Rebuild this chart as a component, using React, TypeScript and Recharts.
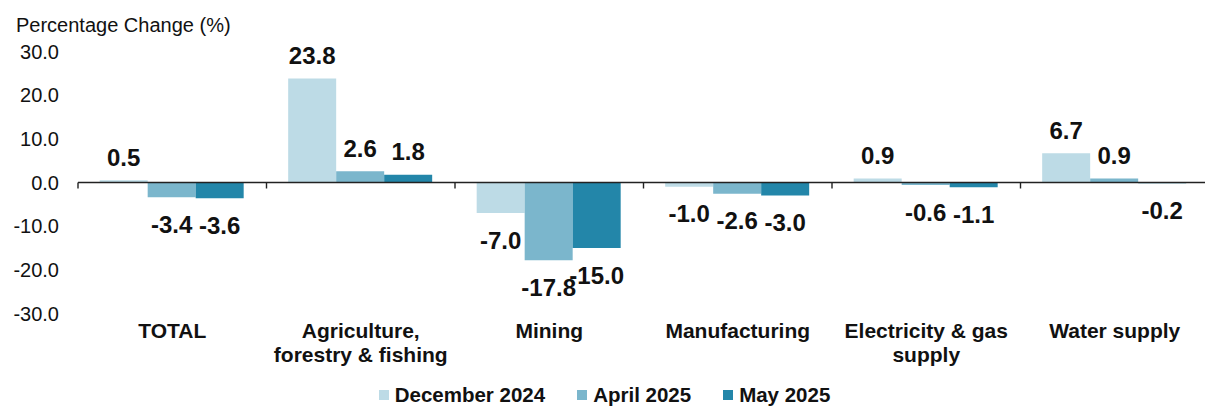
import React from 'react';
import { BarChart, Bar, XAxis, YAxis, ReferenceLine, Legend, LabelList } from 'recharts';

const FONT = '"Liberation Sans", Arial, sans-serif';

// Categories (\n = line break in the axis label)
const categories = [
  'TOTAL',
  'Agriculture,\nforestry & fishing',
  'Mining',
  'Manufacturing',
  'Electricity & gas\nsupply',
  'Water supply',
];

const dec2024 = [0.5, 23.8, -7.0, -1.0, 0.9, 6.7];
const apr2025 = [-3.4, 2.6, -17.8, -2.6, -0.6, 0.9];
const may2025 = [-3.6, 1.8, -15.0, -3.0, -1.1, -0.2];

const yTicks = [-30, -20, -10, 0, 10, 20, 30];

const series = [
  { key: 'dec', name: 'December 2024', color: '#BDDBE6' },
  { key: 'apr', name: 'April 2025', color: '#7BB6CC' },
  { key: 'may', name: 'May 2025', color: '#2386A9' },
];

const data = categories.map((category, i) => ({
  category,
  dec: dec2024[i],
  apr: apr2025[i],
  may: may2025[i],
}));

// bold value label: above positive bars, below negative ones
const ValueLabel = (props: any) => {
  const vb = props.viewBox ?? props;
  const x = props.x ?? vb.x;
  const y = props.y ?? vb.y;
  const width = props.width ?? vb.width;
  const height = props.height ?? vb.height;
  const value = Number(props.value);
  const top = Math.min(y, y + height);
  const bottom = Math.max(y, y + height);
  const cy = value >= 0 ? top - 23 : bottom + 27;
  return (
    <text
      x={x + width / 2}
      y={cy}
      textAnchor="middle"
      dominantBaseline="central"
      fontSize={24}
      fontWeight="bold"
      fontFamily={FONT}
      fill="#111"
    >
      {value.toFixed(1)}
    </text>
  );
};

const CategoryTick = (props: any) => {
  const { x, y, payload } = props;
  const lines = String(payload.value).split('\n');
  return (
    <text x={x} y={y} textAnchor="middle" fontSize={21} fontWeight="bold" fontFamily={FONT} fill="#111">
      {lines.map((line, i) => (
        <tspan key={i} x={x} dy={24}>
          {line}
        </tspan>
      ))}
    </text>
  );
};

// zero line with small tick marks at the category boundaries
const ZeroAxis = (props: any) => {
  const { x1, y1, x2 } = props;
  const n = categories.length;
  const step = (x2 - x1) / n;
  return (
    <g>
      <line x1={x1} y1={y1} x2={x2} y2={y1} stroke="#222" strokeWidth={1.4} />
      {categories.concat(['']).map((_, i) => (
        <line key={i} x1={x1 + i * step} y1={y1} x2={x1 + i * step} y2={y1 + 6} stroke="#222" strokeWidth={1.4} />
      ))}
    </g>
  );
};

const LegendContent = () => (
  <div
    style={{
      display: 'flex',
      justifyContent: 'center',
      alignItems: 'center',
      height: 24,
      gap: 32,
      fontFamily: FONT,
      fontSize: 20.5,
      fontWeight: 'bold',
      color: '#111',
    }}
  >
    {series.map((s) => (
      <div key={s.key} style={{ display: 'flex', alignItems: 'center' }}>
        <span style={{ width: 10, height: 10, background: s.color, marginRight: 6, display: 'inline-block' }} />
        {s.name}
      </div>
    ))}
  </div>
);

export default function App() {
  return (
    <div style={{ position: 'absolute', left: 0, top: 0, width: 1205, height: 407, background: '#fff', overflow: 'hidden' }}>
      <div
        style={{
          position: 'absolute',
          left: 16,
          top: 15,
          fontFamily: FONT,
          fontSize: 20,
          lineHeight: '20px',
          color: '#111',
          zIndex: 2,
        }}
      >
        Percentage Change (%)
      </div>
      <BarChart
        width={1205}
        height={407}
        data={data}
        margin={{ top: 51.5, right: -4, left: 0, bottom: 0 }}
        barCategoryGap="11.5%"
        barGap={0}
      >
        <YAxis
          domain={[-30, 30]}
          ticks={yTicks}
          width={78}
          axisLine={false}
          tickLine={false}
          tickSize={0}
          tickMargin={19}
          tickFormatter={(v: number) => v.toFixed(1)}
          tick={{ fontSize: 20, fill: '#111', fontFamily: FONT }}
        />
        <XAxis
          dataKey="category"
          height={69.5}
          axisLine={false}
          tickLine={false}
          tickSize={0}
          tickMargin={0}
          interval={0}
          tick={<CategoryTick />}
        />
        {series.map((s) => (
          <Bar key={s.key} dataKey={s.key} name={s.name} fill={s.color} isAnimationActive={false}>
            <LabelList dataKey={s.key} content={<ValueLabel />} />
          </Bar>
        ))}
        <ReferenceLine y={0} shape={<ZeroAxis />} />
        <Legend verticalAlign="bottom" content={<LegendContent />} wrapperStyle={{ bottom: 0 }} />
      </BarChart>
    </div>
  );
}
